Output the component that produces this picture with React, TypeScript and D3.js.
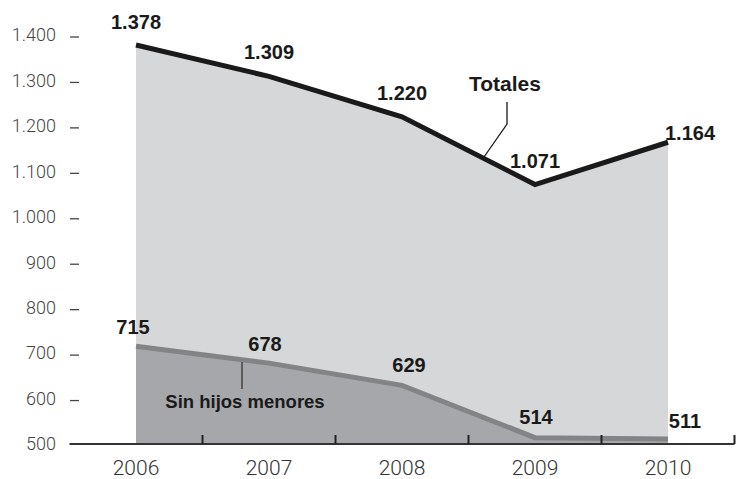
import * as d3 from "d3";

const years = ["2006", "2007", "2008", "2009", "2010"];
const totales = [1378, 1309, 1220, 1071, 1164];
const sinHijos = [715, 678, 629, 514, 511];
const yTicks = [500, 600, 700, 800, 900, 1000, 1100, 1200, 1300, 1400];

const esLocale = d3.formatLocale({ decimal: ",", thousands: ".", grouping: [3], currency: ["", "€"] });
const fmt = (v: number) => (v >= 1000 ? esLocale.format(",")(v) : String(v));

const width = 745;
const height = 479;
const margin = { left: 70, right: 10, top: 35, bottom: 35 };

export default function App(): JSX.Element {
  const x = d3
    .scalePoint<string>()
    .domain(years)
    .range([136, 668]);
  const step = x.step();
  const y = d3.scaleLinear().domain([500, 1400]).range([444, margin.top]);

  const areaTot = d3
    .area<number>()
    .x((_, i) => x(years[i])!)
    .y0(y(500))
    .y1((d) => y(d));
  const lineTot = d3
    .line<number>()
    .x((_, i) => x(years[i])!)
    .y((d) => y(d));

  const labelFont = "'Liberation Sans', Arial, sans-serif";
  const axisFont = "Roboto, sans-serif";

  // label offsets relative to each point
  const totOffsets = [
    [0, -16],
    [0, -17],
    [0, -17],
    [0, -17],
    [22, -2],
  ];
  const sinOffsets = [
    [-3, -12],
    [-4, -12],
    [7, -13],
    [1, -14],
    [17, -11],
  ];

  const baseY = y(500);
  const axisStart = x(years[0])! - step / 2;
  const axisEnd = x(years[years.length - 1])! + step / 2;

  return (
    <svg width={width} height={height} style={{ position: "absolute", left: 0, top: 0 }}>
      <rect width={width} height={height} fill="#fff" />
      <path d={areaTot(totales)!} fill="#d6d7d9" />
      <path d={areaTot(sinHijos)!} fill="#a6a7aa" />
      <path d={lineTot(sinHijos)!} fill="none" stroke="#838486" strokeWidth={5} />
      <path d={lineTot(totales)!} fill="none" stroke="#1a1a1a" strokeWidth={5} />

      {yTicks.map((t) => (
        <g key={t}>
          <text
            x={56}
            y={y(t)}
            dy="0.35em"
            textAnchor="end"
            fontFamily={axisFont}
            fontSize={18}
            fontWeight={300}
            fill="#444"
          >
            {fmt(t)}
          </text>
          {t !== 500 && <line x1={70} x2={79} y1={y(t) + 2} y2={y(t) + 2} stroke="#444" strokeWidth={1.3} />}
        </g>
      ))}

      <line x1={axisStart} x2={axisEnd} y1={baseY} y2={baseY} stroke="#333" strokeWidth={2} />
      {years.map((yr) => (
        <line
          key={"t" + yr}
          x1={x(yr)! + step / 2}
          x2={x(yr)! + step / 2}
          y1={baseY}
          y2={baseY - 9}
          stroke="#222"
          strokeWidth={2}
        />
      ))}
      {years.map((yr) => (
        <text
          key={"l" + yr}
          x={x(yr)!}
          y={baseY + 24}
          dy="0.35em"
          textAnchor="middle"
          fontFamily={axisFont}
          fontSize={21}
          fontWeight={300}
          fill="#333"
        >
          {yr}
        </text>
      ))}

      {totales.map((v, i) => (
        <text
          key={"tv" + i}
          x={x(years[i])! + totOffsets[i][0]}
          y={y(v) + totOffsets[i][1]}
          textAnchor="middle"
          fontFamily={labelFont}
          fontSize={20}
          fontWeight={700}
          fill="#1a1a1a"
        >
          {fmt(v)}
        </text>
      ))}
      {sinHijos.map((v, i) => (
        <text
          key={"sv" + i}
          x={x(years[i])! + sinOffsets[i][0]}
          y={y(v) + sinOffsets[i][1]}
          textAnchor="middle"
          fontFamily={labelFont}
          fontSize={20}
          fontWeight={700}
          fill="#1a1a1a"
        >
          {fmt(v)}
        </text>
      ))}

      <text x={505} y={91} textAnchor="middle" fontFamily={labelFont} fontSize={21} fontWeight={700} fill="#1a1a1a">
        Totales
      </text>
      <polyline points="507,102 507,124 484,157" fill="none" stroke="#1a1a1a" strokeWidth={1.3} />

      <text x={245} y={408} textAnchor="middle" fontFamily={labelFont} fontSize={18.5} fontWeight={700} fill="#1a1a1a">
        Sin hijos menores
      </text>
      <line x1={242} x2={242} y1={362} y2={389} stroke="#333" strokeWidth={1.3} />
    </svg>
  );
}
